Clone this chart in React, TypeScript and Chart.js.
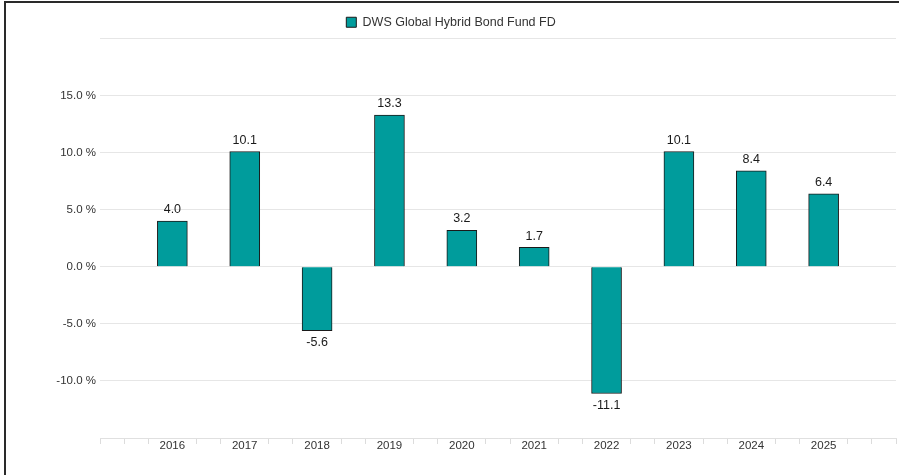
import React, { useEffect, useRef } from "react";
import { Chart, registerables } from "chart.js";

Chart.register(...registerables);

const years = [2016, 2017, 2018, 2019, 2020, 2021, 2022, 2023, 2024, 2025];
const returns = [4.0, 10.1, -5.6, 13.3, 3.2, 1.7, -11.1, 10.1, 8.4, 6.4];
const seriesName = "DWS Global Hybrid Bond Fund FD";
const xMin = 2015;
const xMax = 2026;
const minorPerYear = 3;
const yMin = -15;
const yMax = 20;
const yStep = 5;

const FONT = "'Liberation Sans', Arial, sans-serif";
const TEAL = "#009c9c";

const valueLabels = {
  id: "valueLabels",
  afterDatasetsDraw(chart: any) {
    const ctx = chart.ctx;
    const meta = chart.getDatasetMeta(0);
    ctx.save();
    ctx.font = `12.5px ${FONT}`;
    ctx.fillStyle = "#1a1a1a";
    ctx.textAlign = "center";
    meta.data.forEach((bar: any, i: number) => {
      const v = returns[i];
      if (v >= 0) {
        ctx.textBaseline = "bottom";
        ctx.fillText(v.toFixed(1), bar.x, bar.y - 5);
      } else {
        ctx.textBaseline = "top";
        ctx.fillText(v.toFixed(1), bar.x, bar.y + 6);
      }
    });
    ctx.restore();
  },
};

export default function App() {
  const ref = useRef<HTMLCanvasElement>(null);
  useEffect(() => {
    if (!ref.current) return;
    const isYear = (v: number) =>
      Math.abs(v - Math.round(v)) < 1e-6 && Math.round(v) > xMin && Math.round(v) < xMax;
    const chart = new Chart(ref.current, {
      type: "bar",
      data: {
        datasets: [
          {
            label: seriesName,
            data: years.map((y, i) => ({ x: y, y: returns[i] })),
            backgroundColor: TEAL,
            borderColor: "#1a1a1a",
            borderWidth: 1,
            barThickness: 30,
          },
        ],
      },
      options: {
        responsive: false,
        animation: false,
        layout: { padding: { top: 3, right: 3, left: 0, bottom: 0 } },
        plugins: {
          tooltip: { enabled: false },
          legend: {
            position: "top",
            labels: {
              boxWidth: 10,
              boxHeight: 10,
              color: "#333",
              font: { family: FONT, size: 12.5 },
              generateLabels: () => [
                {
                  text: seriesName,
                  fillStyle: TEAL,
                  strokeStyle: "#1a1a1a",
                  lineWidth: 1,
                  datasetIndex: 0,
                  fontColor: "#333",
                } as any,
              ],
            },
          },
        },
        scales: {
          x: {
            type: "linear",
            min: xMin,
            max: xMax,
            offset: false,
            afterBuildTicks: (scale: any) => {
              const ticks: any[] = [];
              const n = (xMax - xMin) * minorPerYear;
              for (let k = 0; k <= n; k++) ticks.push({ value: xMin + k / minorPerYear });
              scale.ticks = ticks;
            },
            afterFit: (scale: any) => {
              scale.height = 37;
            },
            grid: {
              offset: false,
              drawOnChartArea: false,
              drawTicks: true,
              tickLength: 6,
              tickColor: (ctx: any) =>
                ctx.tick && isYear(ctx.tick.value) ? "rgba(0,0,0,0)" : "#dcdcdc",
            },
            border: { display: true, color: "#e0e0e0" },
            ticks: {
              autoSkip: false,
              maxRotation: 0,
              padding: -5,
              color: "#333",
              font: { family: FONT, size: 11.5 },
              callback: (v: any) => (isYear(Number(v)) ? String(Math.round(Number(v))) : ""),
            },
          },
          y: {
            min: yMin,
            max: yMax,
            afterFit: (scale: any) => {
              scale.width = 94;
            },
            grid: { color: "#e6e6e6", drawTicks: false },
            border: { display: false },
            ticks: {
              stepSize: yStep,
              padding: 4,
              color: "#333",
              font: { family: FONT, size: 11.5 },
              callback: (v: any) =>
                Number(v) === yMax || Number(v) === yMin ? "" : Number(v).toFixed(1) + " %",
            },
          },
        },
      },
      plugins: [valueLabels],
    });
    return () => chart.destroy();
  }, []);

  return (
    <div
      style={{
        position: "absolute",
        left: 4,
        top: 1,
        width: 895,
        height: 474,
        boxSizing: "border-box",
        borderLeft: "2px solid #2a2a2a",
        borderTop: "2px solid #2a2a2a",
        background: "#fff",
      }}
    >
      <canvas ref={ref} width={893} height={472} style={{ display: "block" }} />
    </div>
  );
}
